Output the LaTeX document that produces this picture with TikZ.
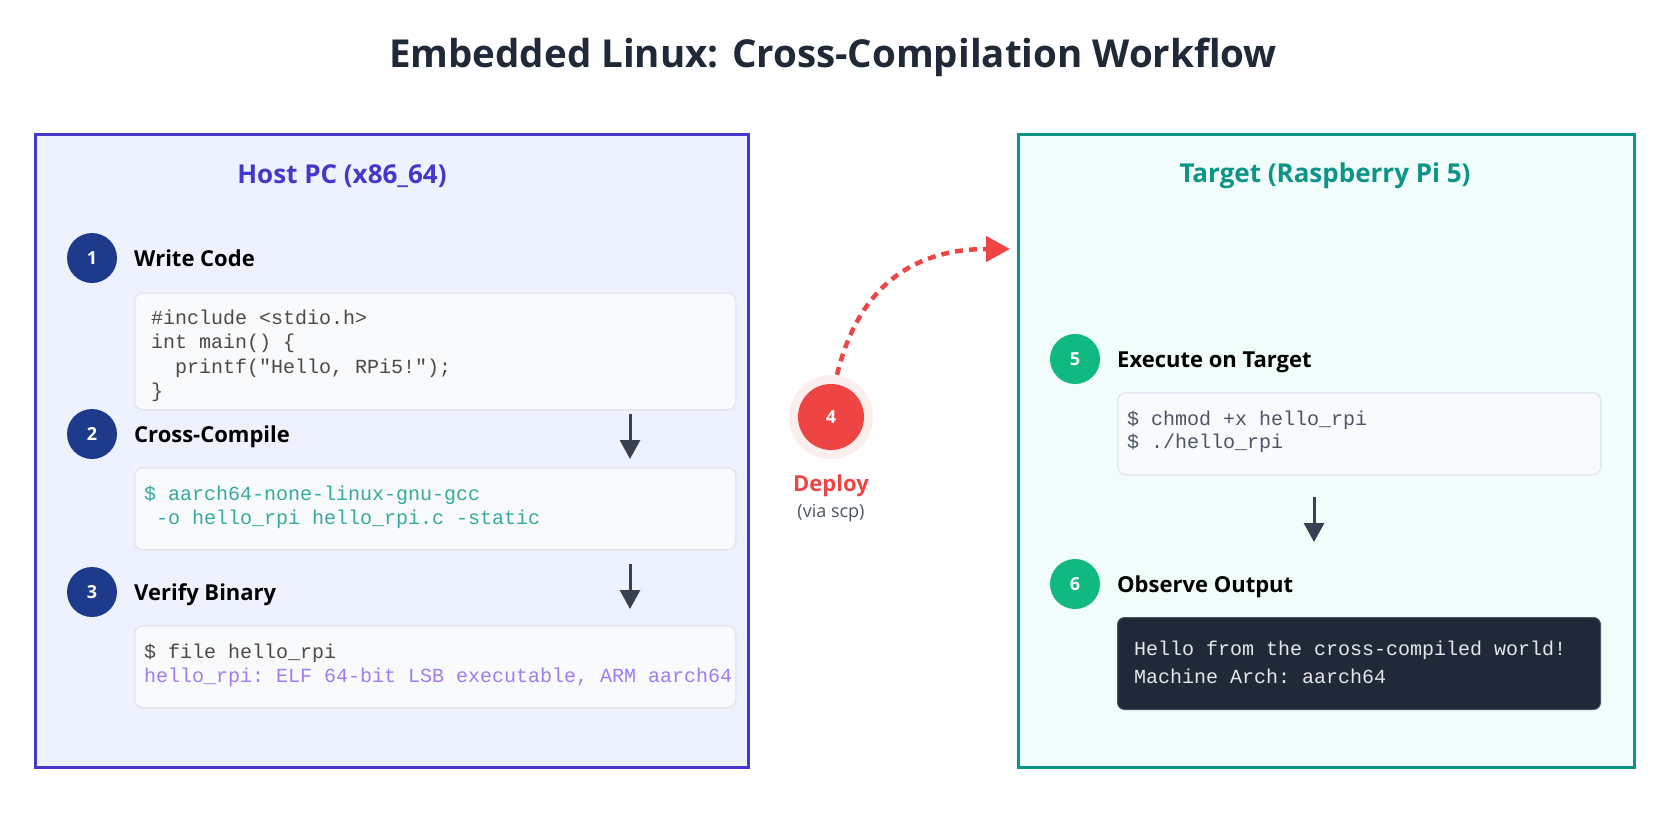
\documentclass[tikz,border=0pt]{standalone}
\usepackage{fontspec}
\setmainfont{Open Sans}
\setmonofont{Liberation Mono}
\usetikzlibrary{arrows.meta}
\definecolor{titlec}{HTML}{1F2937}
\definecolor{indigoB}{HTML}{4338CA}
\definecolor{indigoF}{HTML}{EEF2FF}
\definecolor{tealB}{HTML}{0D9488}
\definecolor{tealF}{HTML}{F0FDFA}
\definecolor{navyC}{HTML}{1E3A8A}
\definecolor{greenC}{HTML}{10B981}
\definecolor{redC}{HTML}{EF4444}
\definecolor{haloC}{HTML}{FDEEEE}
\definecolor{codeF}{HTML}{F8FAFC}
\definecolor{codeB}{HTML}{E2E8F0}
\definecolor{codeGray}{HTML}{4A4A4A}
\definecolor{codeTeal}{HTML}{35AA9E}
\definecolor{codePurple}{HTML}{A07CF0}
\definecolor{arrowC}{HTML}{374151}
\definecolor{darkF}{HTML}{1F2937}
\definecolor{darkB}{HTML}{475569}
\definecolor{outT}{HTML}{E5E7EB}
\definecolor{subGray}{HTML}{4B5563}
\newcommand{\codefnt}{\ttfamily\fontsize{20}{24}\selectfont}
\tikzset{
  panelL/.style={draw=indigoB, fill=indigoF, line width=2.5pt},
  panelR/.style={draw=tealB, fill=tealF, line width=2.5pt},
  paneltitle/.style={font=\bfseries\fontsize{26}{30}\selectfont, anchor=base, inner sep=0pt},
  codebox/.style={draw=codeB, fill=codeF, line width=1.5pt, rounded corners=8pt, anchor=north west, inner sep=0pt},
  darkbox/.style={draw=darkB, fill=darkF, line width=1pt, rounded corners=7pt, anchor=north west, inner sep=0pt},
  stepnum/.style={circle, inner sep=0pt, minimum size=50pt, text=white, font=\bfseries\fontsize{18}{20}\selectfont},
  steplabel/.style={font=\bfseries\fontsize{22}{26}\selectfont, text=black, anchor=base west, inner sep=0pt},
  code/.style={font=\codefnt, anchor=base west, inner sep=0pt},
  flowarrow/.style={draw=arrowC, line width=3pt, -{Triangle[length=19pt,width=20pt]}},
}
\begin{document}
\begin{tikzpicture}[x=1pt,y=-1pt]
\useasboundingbox (0,0) rectangle (1667,833);
\fill[white] (0,0) rectangle (1667,833);

% title
\node[font=\bfseries\fontsize{38.5}{44}\selectfont, text=titlec, anchor=base, inner sep=0pt] (title) at (833,67) {Embedded Linux: Cross-Compilation Workflow};

% panels
\node[panelL, anchor=north west, minimum width=713pt, minimum height=633pt, inner sep=0pt] (host) at (34,133) {};
\node[panelR, anchor=north west, minimum width=616pt, minimum height=633pt, inner sep=0pt] (target) at (1017,133) {};
\node[paneltitle, text=indigoB] (hostT) at (342,183) {Host PC (x86\_64)};
\node[paneltitle, text=tealB] (targetT) at (1325,182) {Target (Raspberry Pi 5)};

% step 1
\node[stepnum, fill=navyC] (s1) at (92,258) {1};
\node[steplabel] (l1) at (134,266) {Write Code};
\node[codebox, minimum width=601pt, minimum height=117pt] (box1) at (134,292) {};
\node[code, text=codeGray] (c1a) at (151,324) {\#include <stdio.h>};
\node[code, text=codeGray] (c1b) at (151,348.5) {int main() \{};
\node[code, text=codeGray] (c1c) at (151,373) {\phantom{xx}printf("Hello, RPi5!");};
\node[code, text=codeGray] (c1d) at (151,397) {\}};

% step 2
\node[stepnum, fill=navyC] (s2) at (92,434) {2};
\node[steplabel] (l2) at (134,442) {Cross-Compile};
\node[codebox, minimum width=601pt, minimum height=82pt] (box2) at (134,467) {};
\node[code, text=codeTeal] (c2a) at (144,500) {\$ aarch64-none-linux-gnu-gcc};
\node[code, text=codeTeal] (c2b) at (144,524) {\phantom{x}-o hello\_rpi hello\_rpi.c -static};

% step 3
\node[stepnum, fill=navyC] (s3) at (92,592) {3};
\node[steplabel] (l3) at (134,600) {Verify Binary};
\node[codebox, minimum width=601pt, minimum height=82pt] (box3) at (134,625) {};
\node[code, text=codeGray] (c3a) at (144,658) {\$ file hello\_rpi};
\node[code, text=codePurple] (c3b) at (144,682) {hello\_rpi: ELF 64-bit LSB executable, ARM aarch64};

% arrows left
\coordinate (a1s) at (630,414);
\coordinate (a1e) at (630,459);
\coordinate (a2s) at (630,564);
\coordinate (a2e) at (630,609);
\draw[flowarrow] (a1s) -- (a1e);
\draw[flowarrow] (a2s) -- (a2e);

% deploy
\node[circle, fill=haloC, minimum size=84pt, inner sep=0pt] (halo) at (831,417) {};
\node[circle, fill=redC, minimum size=66pt, inner sep=0pt, text=white, font=\bfseries\fontsize{18}{20}\selectfont] (s4) at (831,417) {4};
\node[font=\bfseries\fontsize{22}{26}\selectfont, text=redC, anchor=base, inner sep=0pt] (dep) at (831,491) {Deploy};
\node[font=\fontsize{18}{21}\selectfont, text=subGray, anchor=base, inner sep=0pt] (via) at (831,517) {(via scp)};
\coordinate (dtip) at (1010,249);
\draw[draw=redC, line width=4.5pt, dash pattern=on 8pt off 6pt, -{Triangle[length=24pt,width=25pt]}]
  ([xshift=6pt]halo.north) .. controls (860,280) and (920,249) .. (dtip);

% step 5
\node[stepnum, fill=greenC] (s5) at (1075,359) {5};
\node[steplabel] (l5) at (1117,367) {Execute on Target};
\node[codebox, minimum width=483pt, minimum height=82pt] (box5) at (1117,392) {};
\node[code, text=subGray] (c5a) at (1127,425) {\$ chmod +x hello\_rpi};
\node[code, text=subGray] (c5b) at (1127,448) {\$ ./hello\_rpi};

\coordinate (a3s) at (1314,497);
\coordinate (a3e) at (1314,542);
\draw[flowarrow] (a3s) -- (a3e);

% step 6
\node[stepnum, fill=greenC] (s6) at (1075,584) {6};
\node[steplabel] (l6) at (1117,592) {Observe Output};
\node[darkbox, minimum width=483pt, minimum height=92pt] (out) at (1117,617) {};
\node[code, text=outT] (o1) at (1134,655) {Hello from the cross-compiled world!};
\node[code, text=outT] (o2) at (1134,683) {Machine Arch: aarch64};
\end{tikzpicture}
\end{document}
